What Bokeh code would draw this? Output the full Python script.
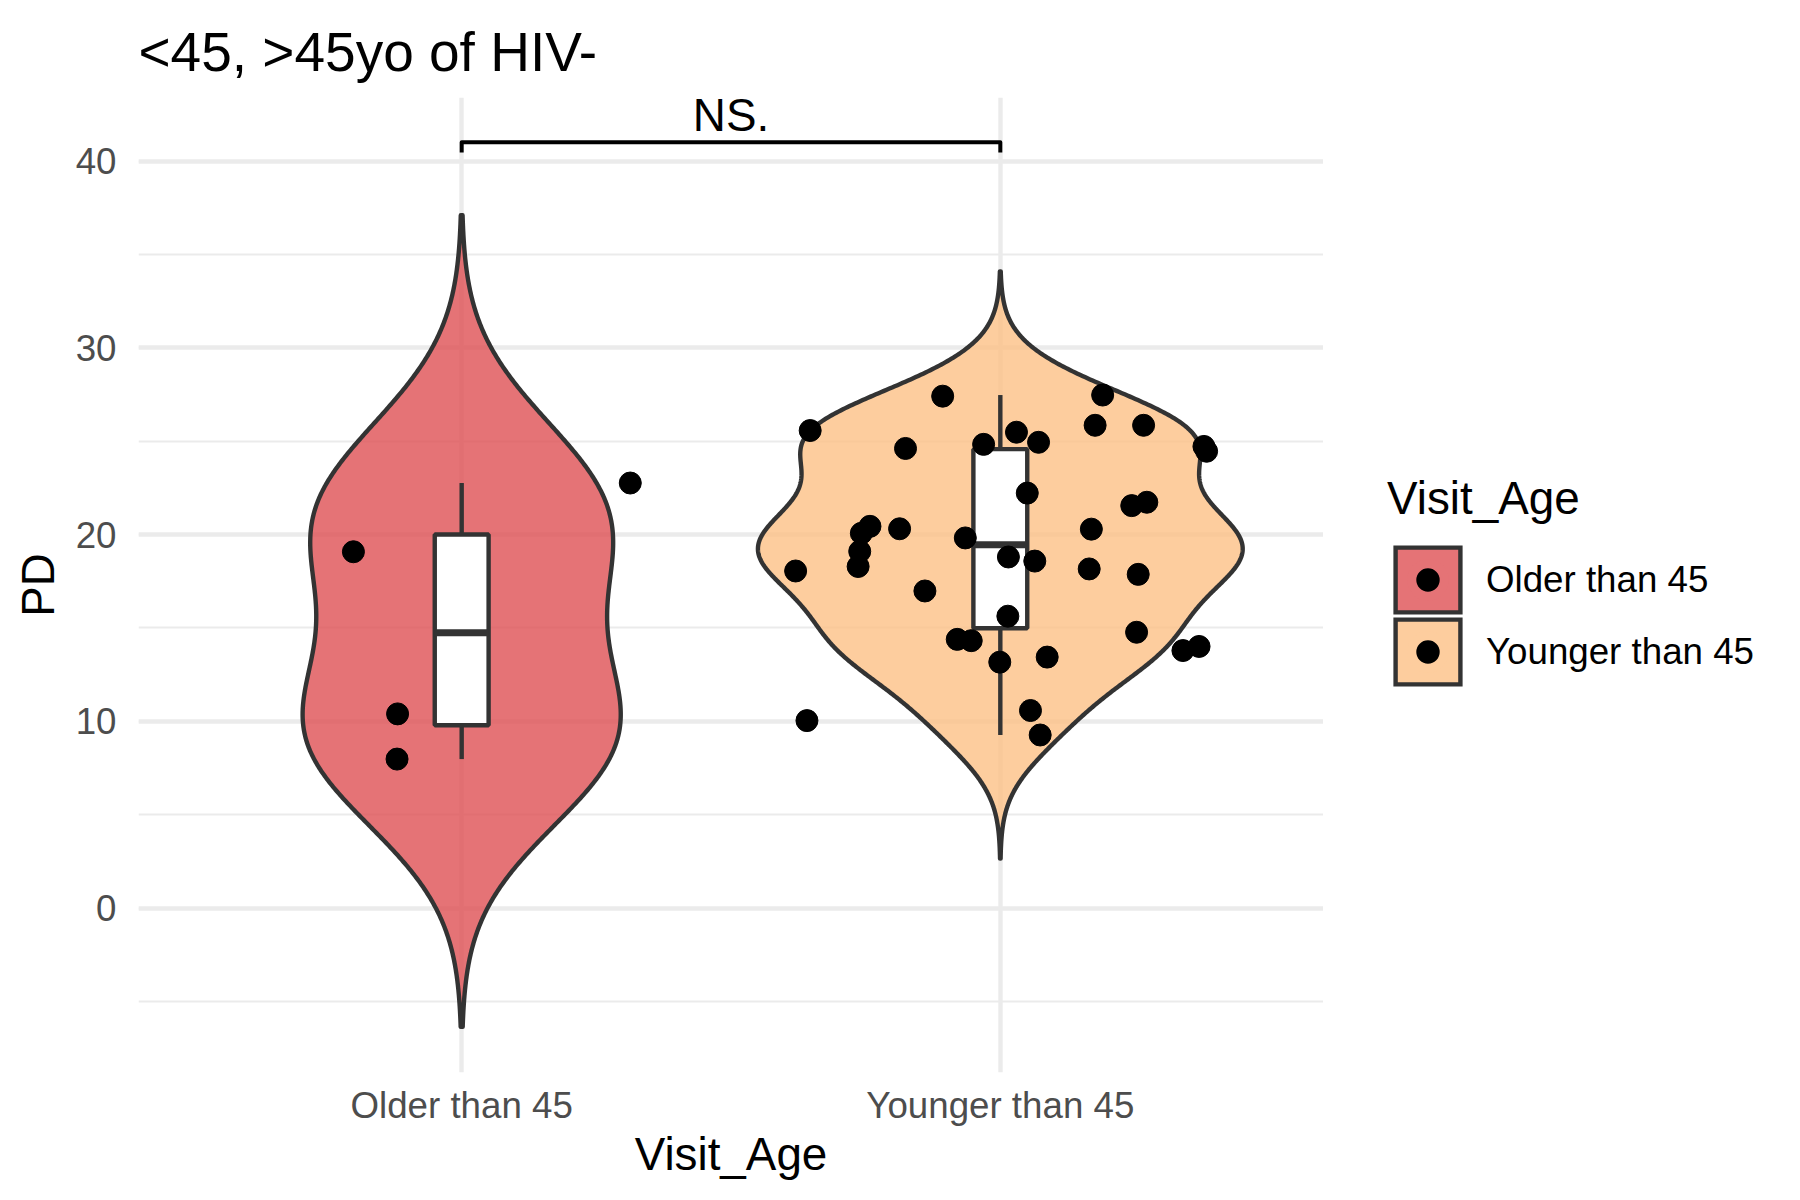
import numpy as np
from bokeh.plotting import figure
from bokeh.layouts import row
from bokeh.models import Range1d, FixedTicker, SingleIntervalTicker, Legend, LegendItem, ColumnDataSource, Label
from bokeh.embed import file_html
from bokeh.resources import INLINE

# ---------------- data ----------------
title_text = "<45, >45yo of HIV-"
x_title = "Visit_Age"
y_title = "PD"
legend_title = "Visit_Age"
categories = ["Older than 45", "Younger than 45"]
fill_colors = ["#DE5054", "#FCC086"]
key_colors = ["#E57376", "#FDCD9E"]   # fill colours as seen over white

older_pd = [19.08, 22.76, 10.40, 7.98]
older_jitter = [-0.201, 0.313, -0.119, -0.120]

younger_pd = [25.57, 27.41, 27.47, 24.61, 24.83, 25.48, 24.94, 25.85, 25.85, 24.72,
              24.46, 22.22, 21.55, 21.73, 20.44, 20.07, 20.31, 20.29, 19.82, 18.05,
              19.10, 18.29, 18.80, 18.58, 18.16, 17.87, 16.98, 15.63, 14.77, 14.39,
              14.32, 13.79, 14.01, 13.17, 13.44, 10.58, 9.27, 10.04]
younger_jitter = [-0.353, -0.107, 0.190, -0.176, -0.031, 0.030, 0.071, 0.176, 0.266, 0.378,
                  0.383, 0.050, 0.244, 0.272, -0.242, -0.258, -0.187, 0.169, -0.065, -0.380,
                  -0.261, -0.264, 0.015, 0.064, 0.165, 0.256, -0.140, 0.014, 0.253, -0.080,
                  -0.054, 0.339, 0.369, -0.001, 0.087, 0.056, 0.074, -0.359]

y_ticks = [0, 10, 20, 30, 40]
sig_label = "NS."
sig_y = 41.0

groups = [older_pd, younger_pd]
jitters = [older_jitter, younger_jitter]
positions = [1, 2]

FONT = "Liberation Sans"
DARK = "#333333"


def nrd0(v):
    v = np.asarray(v, float)
    sd = np.std(v, ddof=1)
    q1, q3 = np.percentile(v, [25, 75])
    lo = min(sd, (q3 - q1) / 1.34)
    return 0.9 * lo * len(v) ** (-0.2)


def kde(v, n=512):
    v = np.asarray(v, float)
    bw = nrd0(v)
    g = np.linspace(v.min() - 3 * bw, v.max() + 3 * bw, n)
    d = np.exp(-0.5 * ((g[:, None] - v[None, :]) / bw) ** 2).sum(1) / (len(v) * bw * np.sqrt(2 * np.pi))
    return g, d


dens = [kde(g) for g in groups]
dmax = max(d.max() for _, d in dens)

p = figure(width=1323, height=1200, output_backend="svg", toolbar_location=None,
           x_range=Range1d(0.4, 2.6), y_range=Range1d(-8.8, 43.4),
           min_border_left=138, min_border_right=0, min_border_top=97, min_border_bottom=128)
p.outline_line_color = None
p.background_fill_color = "white"
p.border_fill_color = "white"

p.xaxis.ticker = FixedTicker(ticks=positions)
p.xaxis.major_label_overrides = {1: categories[0], 2: categories[1]}
p.yaxis.ticker = SingleIntervalTicker(interval=10, num_minor_ticks=2)
p.xgrid.grid_line_color = "#EBEBEB"
p.xgrid.grid_line_width = 4.4
p.ygrid.grid_line_color = "#EBEBEB"
p.ygrid.grid_line_width = 4.4
p.ygrid.minor_grid_line_color = "#EBEBEB"
p.ygrid.minor_grid_line_width = 2.2

for ax in (p.xaxis[0], p.yaxis[0]):
    ax.axis_line_color = None
    ax.major_tick_line_color = None
    ax.minor_tick_line_color = None
    ax.major_tick_out = 0
    ax.major_tick_in = 0
    ax.minor_tick_out = 0
    ax.minor_tick_in = 0
    ax.major_label_text_font = FONT
    ax.major_label_text_font_size = "36.7px"
    ax.major_label_text_color = "#4D4D4D"
    ax.axis_label_text_font = FONT
    ax.axis_label_text_font_size = "45.8px"
    ax.axis_label_text_font_style = "normal"
    ax.axis_label_text_color = "black"

p.xaxis.axis_label = x_title
p.yaxis.axis_label = y_title
p.xaxis.major_label_standoff = 12
p.xaxis.axis_label_standoff = 0
p.yaxis.major_label_standoff = 22
p.yaxis.axis_label_standoff = 9

p.title.text = title_text
p.title.text_font = FONT
p.title.text_font_size = "55px"
p.title.text_font_style = "normal"
p.title.text_color = "black"
p.title.align = "left"
p.title.vertical_align = "top"
p.title.standoff = 26

violin_xy = []
for i, (pos, vals, jit) in enumerate(zip(positions, groups, jitters)):
    g, d = dens[i]
    w = 0.45 * d / dmax
    xs = np.concatenate([pos - w, (pos + w)[::-1]])
    ys = np.concatenate([g, g[::-1]])
    violin_xy.append((xs, ys))
    p.patch(xs, ys, fill_color=fill_colors[i], fill_alpha=0.8,
            line_color=DARK, line_width=4.4, line_join="round")

    v = np.asarray(vals, float)
    q1, med, q3 = np.percentile(v, [25, 50, 75])
    iqr = q3 - q1
    lo = v[v >= q1 - 1.5 * iqr].min()
    hi = v[v <= q3 + 1.5 * iqr].max()
    p.segment(x0=[pos, pos], y0=[q3, q1], x1=[pos, pos], y1=[hi, lo],
              line_color=DARK, line_width=4.4)
    p.quad(left=[pos - 0.05], right=[pos + 0.05], bottom=[q1], top=[q3],
           fill_color="white", line_color=DARK, line_width=4.4)
    p.segment(x0=[pos - 0.05], y0=[med], x1=[pos + 0.05], y1=[med],
              line_color=DARK, line_width=7)

point_src = []
for i, (pos, vals, jit) in enumerate(zip(positions, groups, jitters)):
    src = ColumnDataSource(dict(x=[pos + j for j in jit], y=vals))
    point_src.append(src)
    p.scatter("x", "y", source=src, size=22, fill_color="black", line_color="black")

# significance bracket
p.multi_line(xs=[[positions[0], positions[0], positions[1], positions[1]]],
             ys=[[sig_y - 0.55, sig_y, sig_y, sig_y - 0.55]],
             line_color="black", line_width=4, line_join="round")
p.add_layout(Label(x=(positions[0] + positions[1]) / 2, y=sig_y + 0.05, text=sig_label,
                   text_font=FONT, text_font_size="45.8px", text_align="center",
                   text_baseline="bottom", text_color="black"))

# ---------------- legend panel (separate figure to the right) ----------------
lp = figure(width=477, height=1200, output_backend="svg", toolbar_location=None,
            x_range=Range1d(10, 11), y_range=Range1d(100, 101),
            x_axis_type=None, y_axis_type=None,
            min_border_left=0, min_border_right=0, min_border_top=0, min_border_bottom=0)
lp.outline_line_color = None
lp.background_fill_color = "white"
lp.border_fill_color = "white"
lp.grid.visible = False

items = []
for i in range(2):
    xs, ys = violin_xy[i]
    pr = lp.patch(xs, ys, fill_color=fill_colors[i], fill_alpha=0.8,
                  line_color=DARK, line_width=4.4, line_join="miter")
    sr = lp.scatter("x", "y", source=point_src[i], fill_color="black",
                    line_color=key_colors[i], line_width=9)
    items.append(LegendItem(label=categories[i], renderers=[pr, sr]))


def make_legend(item_list, loc, title=None):
    lg = Legend(items=item_list, location=loc)
    if title:
        lg.title = title
    lg.title_text_font = FONT
    lg.title_text_font_size = "45.8px"
    lg.title_text_font_style = "normal"
    lg.title_text_color = "black"
    lg.title_standoff = 14
    lg.label_text_font = FONT
    lg.label_text_font_size = "36.7px"
    lg.label_text_color = "black"
    lg.label_standoff = 18
    lg.glyph_width = 81
    lg.glyph_height = 81
    lg.spacing = 0
    lg.padding = 0
    lg.margin = 0
    lg.border_line_color = None
    lg.background_fill_alpha = 0
    return lg


lp.add_layout(make_legend([items[0]], (64, 452), legend_title))
lp.add_layout(make_legend([items[1]], (64, 380)))

layout = row(p, lp, spacing=0)
open("out.html", "w").write(file_html(layout, INLINE))
